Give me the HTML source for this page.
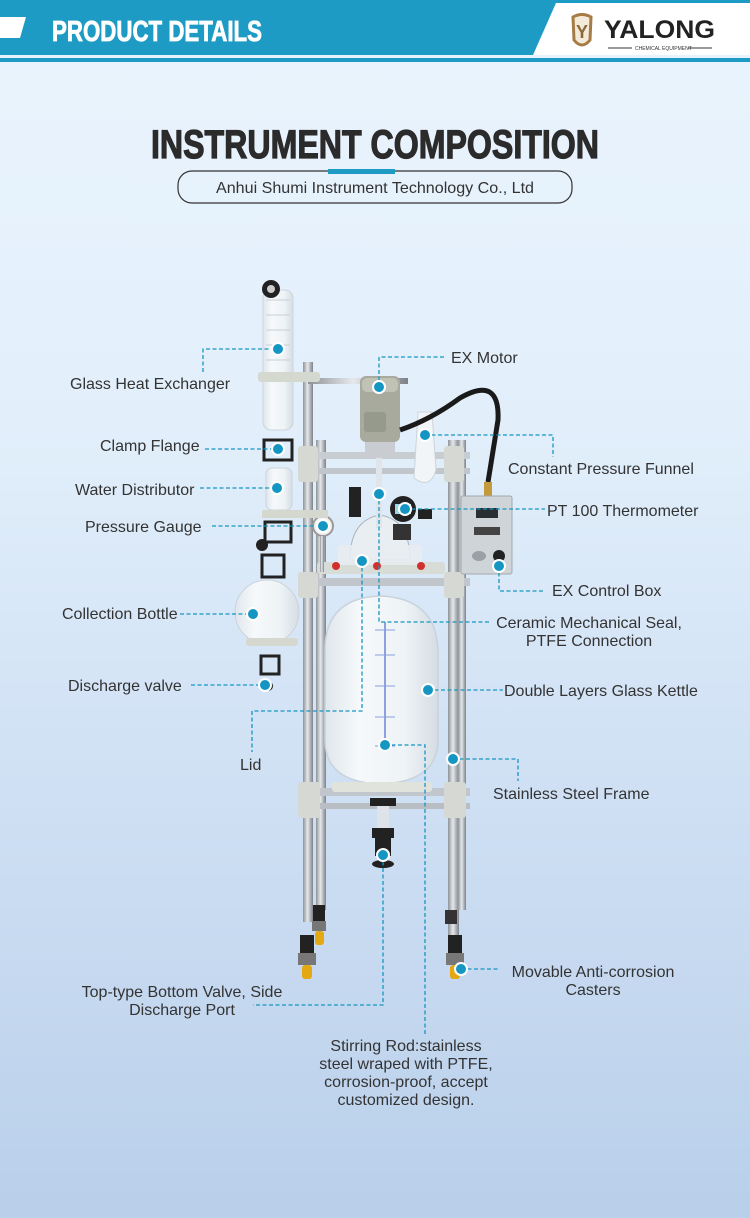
<!DOCTYPE html>
<html><head><meta charset="utf-8"><style>
html,body{margin:0;padding:0}
body{width:750px;height:1218px;overflow:hidden;position:relative;background:linear-gradient(180deg,#eaf4fd 0%,#e2effb 35%,#cfe0f4 65%,#b9cfea 100%);font-family:"Liberation Sans",sans-serif}
svg{position:absolute;left:0;top:0}
</style></head><body>
<svg width="750" height="1218" viewBox="0 0 750 1218" xmlns="http://www.w3.org/2000/svg">
<defs>
<linearGradient id="rod" x1="0" x2="1"><stop offset="0" stop-color="#8d9298"/><stop offset=".45" stop-color="#e6e9ec"/><stop offset="1" stop-color="#7d8288"/></linearGradient>
<linearGradient id="glass" x1="0" x2="1"><stop offset="0" stop-color="#dfe6ec"/><stop offset=".3" stop-color="#f6f9fb"/><stop offset=".7" stop-color="#eef3f6"/><stop offset="1" stop-color="#d5dde4"/></linearGradient>
</defs>
<!-- header -->
<rect x="0" y="0" width="750" height="55" fill="#1e9bc4"/>
<rect x="0" y="58" width="750" height="4" fill="#1e9bc4"/>
<polygon points="0,17 26,17 20,38 0,38" fill="#fff"/>
<text x="52" y="41" font-family="Liberation Sans" font-weight="bold" font-size="29" fill="#fff" stroke="#fff" stroke-width="0.8" textLength="210" lengthAdjust="spacingAndGlyphs">PRODUCT DETAILS</text>
<polygon points="556,3 750,3 750,55 533,55" fill="#fff"/>
<path d="M573,17 Q582,12 591,17 L590,40 Q582,50 574,40 Z" fill="#f3ead9" stroke="#a77b45" stroke-width="3"/>
<text x="576" y="38" font-size="18" font-weight="bold" fill="#8b6a3a">Y</text>
<text x="604" y="38" font-size="25" font-weight="bold" fill="#222" textLength="111" lengthAdjust="spacingAndGlyphs">YALONG</text>
<line x1="608" y1="48" x2="632" y2="48" stroke="#333" stroke-width="1"/>
<line x1="688" y1="48" x2="712" y2="48" stroke="#333" stroke-width="1"/>
<text x="635" y="50" font-size="5" fill="#333">CHEMICAL EQUIPMENT</text>
<!-- title -->
<text x="375" y="158" text-anchor="middle" font-weight="bold" font-size="40" fill="#2b2b2b" stroke="#2b2b2b" stroke-width="1.2" textLength="448" lengthAdjust="spacingAndGlyphs">INSTRUMENT COMPOSITION</text>
<rect x="178" y="171" width="394" height="32" rx="14" fill="none" stroke="#333" stroke-width="1.2"/>
<rect x="328" y="169" width="67" height="5" fill="#1e9bc4"/>
<text x="375" y="193" text-anchor="middle" font-size="16" fill="#333" textLength="318" lengthAdjust="spacingAndGlyphs">Anhui Shumi Instrument Technology Co., Ltd</text>

<!-- apparatus -->
<rect x="303" y="362" width="10" height="560" fill="url(#rod)"/>
<rect x="316" y="440" width="10" height="470" fill="url(#rod)"/>
<rect x="448" y="440" width="11" height="500" fill="url(#rod)"/>
<rect x="458" y="440" width="8" height="470" fill="url(#rod)"/>
<rect x="308" y="378" width="100" height="6" fill="url(#rod)"/>
<rect x="300" y="452" width="170" height="7" fill="#c8cdd2"/>
<rect x="300" y="468" width="170" height="6" fill="#c0c6cb"/>
<rect x="300" y="578" width="170" height="8" fill="#c0c6cb"/>
<rect x="300" y="788" width="170" height="8" fill="#c0c6cb"/>
<rect x="300" y="803" width="170" height="6" fill="#b8bec4"/>
<rect x="298" y="446" width="20" height="36" rx="3" fill="#d6d9d3"/>
<rect x="444" y="446" width="20" height="36" rx="3" fill="#d6d9d3"/>
<rect x="298" y="572" width="20" height="26" rx="3" fill="#d6d9d3"/>
<rect x="444" y="572" width="20" height="26" rx="3" fill="#d6d9d3"/>
<rect x="298" y="782" width="22" height="36" rx="3" fill="#d6d9d3"/>
<rect x="444" y="782" width="22" height="36" rx="3" fill="#d6d9d3"/>
<rect x="300" y="935" width="14" height="18" fill="#222"/><rect x="298" y="953" width="18" height="12" fill="#777"/><rect x="302" y="965" width="10" height="14" rx="3" fill="#e3a812"/>
<rect x="313" y="905" width="12" height="16" fill="#222"/><rect x="312" y="921" width="14" height="10" fill="#777"/><rect x="315" y="931" width="9" height="14" rx="3" fill="#e3a812"/>
<rect x="448" y="935" width="14" height="18" fill="#222"/><rect x="446" y="953" width="18" height="12" fill="#777"/><rect x="450" y="965" width="10" height="14" rx="3" fill="#e3a812"/>
<rect x="445" y="910" width="12" height="14" fill="#333"/>
<path d="M325,650 Q325,598 380,596 Q436,598 438,650 L438,740 Q438,782 380,784 Q325,782 325,740 Z" fill="url(#glass)" stroke="#c9d2da" stroke-width="1.5"/>
<line x1="385" y1="622" x2="385" y2="748" stroke="#6d84d6" stroke-width="1.5"/>
<g stroke="#8a9fe0" stroke-width="1"><line x1="375" y1="630" x2="395" y2="630"/><line x1="375" y1="655" x2="395" y2="655"/><line x1="375" y1="686" x2="395" y2="686"/><line x1="375" y1="717" x2="395" y2="717"/><line x1="375" y1="746" x2="395" y2="746"/></g>
<rect x="332" y="782" width="100" height="10" rx="3" fill="#dfe3db"/>
<rect x="317" y="562" width="128" height="12" rx="3" fill="#d8dcd6"/>
<rect x="370" y="798" width="26" height="8" fill="#222"/>
<rect x="377" y="806" width="12" height="24" fill="#dde3e8"/>
<rect x="372" y="828" width="22" height="10" fill="#222"/>
<rect x="375" y="838" width="16" height="18" fill="#222"/>
<ellipse cx="383" cy="864" rx="11" ry="4" fill="#222"/>
<path d="M350,560 Q350,520 380,515 Q410,520 410,560 Z" fill="#e8eef2" stroke="#aab5bd"/>
<rect x="338" y="545" width="84" height="20" rx="4" fill="#e7ecef" opacity=".9"/>
<circle cx="336" cy="566" r="4" fill="#d0312d"/><circle cx="377" cy="566" r="4" fill="#d0312d"/><circle cx="421" cy="566" r="4" fill="#d0312d"/>
<rect x="376" y="458" width="6" height="70" fill="#dfe5ea"/>
<circle cx="323" cy="526" r="10" fill="#f2f2f2" stroke="#999" stroke-width="2"/>
<rect x="320" y="536" width="4" height="36" fill="url(#rod)"/>
<circle cx="403" cy="509" r="13" fill="#222"/><rect x="395" y="504" width="16" height="10" fill="#9fd3e6"/>
<rect x="418" y="509" width="14" height="10" fill="#222"/>
<rect x="393" y="524" width="18" height="16" fill="#333"/>
<rect x="349" y="487" width="12" height="30" fill="#222"/>
<rect x="360" y="376" width="40" height="66" rx="6" fill="#a7aa9c"/>
<rect x="362" y="378" width="36" height="14" rx="5" fill="#bfc2b4"/>
<rect x="364" y="412" width="22" height="20" rx="3" fill="#969a8c"/>
<rect x="365" y="442" width="30" height="16" fill="#c9cdd1"/>
<path d="M418,412 L432,412 L436,470 Q430,490 414,478 Z" fill="#f1f5f8" stroke="#ccd4da"/>
<path d="M400,430 Q430,420 460,398 Q500,375 498,420 L488,482" fill="none" stroke="#1a1a1a" stroke-width="5"/>
<rect x="484" y="482" width="8" height="14" fill="#c59a3a"/>
<rect x="461" y="496" width="51" height="78" rx="2" fill="#cfd4d8" stroke="#a3a9ae"/>
<rect x="476" y="508" width="22" height="10" fill="#2a2f33"/>
<rect x="474" y="527" width="26" height="8" fill="#444"/>
<circle cx="499" cy="556" r="6" fill="#222"/>
<ellipse cx="479" cy="556" rx="7" ry="5" fill="#9aa0a6"/>
<rect x="263" y="290" width="30" height="140" rx="8" fill="url(#glass)" stroke="#cdd5dc"/>
<g stroke="#c7cfd6" stroke-width="1"><line x1="266" y1="300" x2="290" y2="300"/><line x1="266" y1="315" x2="290" y2="315"/><line x1="266" y1="330" x2="290" y2="330"/><line x1="266" y1="345" x2="290" y2="345"/><line x1="266" y1="360" x2="290" y2="360"/></g>
<circle cx="271" cy="289" r="9" fill="#222"/><circle cx="271" cy="289" r="4" fill="#ccc"/>
<rect x="258" y="372" width="62" height="10" rx="3" fill="#d4d8cf"/>
<rect x="264" y="440" width="28" height="20" fill="none" stroke="#222" stroke-width="3"/>
<rect x="266" y="468" width="26" height="42" rx="6" fill="url(#glass)" stroke="#ccd4da"/>
<rect x="262" y="510" width="66" height="8" fill="#d4d8cf"/>
<rect x="265" y="522" width="26" height="20" fill="none" stroke="#222" stroke-width="3"/>
<circle cx="262" cy="545" r="6" fill="#222"/>
<rect x="262" y="555" width="22" height="22" fill="none" stroke="#222" stroke-width="3"/>
<circle cx="267" cy="612" r="32" fill="url(#glass)" stroke="#cbd3da"/>
<rect x="246" y="638" width="52" height="8" rx="3" fill="#d4d8cf"/>
<rect x="261" y="656" width="18" height="18" fill="none" stroke="#222" stroke-width="3"/>
<circle cx="268" cy="686" r="5" fill="#222"/>

<!-- leaders -->
<g fill="none" stroke="#1596c2" stroke-width="1.3" stroke-dasharray="4,2.5">
<polyline points="203,372 203,349 278,349"/>
<polyline points="205,449 278,449"/>
<polyline points="200,488 277,488"/>
<polyline points="212,526 323,526"/>
<polyline points="180,614 253,614"/>
<polyline points="191,685 265,685"/>
<polyline points="362,561 362,711 252,711 252,752"/>
<polyline points="379,387 379,357 446,357"/>
<polyline points="425,435 553,435 553,457"/>
<polyline points="405,509 545,509"/>
<polyline points="499,566 499,591 543,591"/>
<polyline points="379,494 379,622 490,622"/>
<polyline points="428,690 503,690"/>
<polyline points="385,745 425,745 425,1035"/>
<polyline points="453,759 518,759 518,781"/>
<polyline points="383,855 383,1005 253,1005"/>
<polyline points="461,969 500,969"/>
</g>
<g fill="#1596c2" stroke="#fff" stroke-width="2">
<circle cx="278" cy="349" r="6"/><circle cx="278" cy="449" r="6"/><circle cx="277" cy="488" r="6"/>
<circle cx="323" cy="526" r="6"/><circle cx="253" cy="614" r="6"/><circle cx="265" cy="685" r="6"/>
<circle cx="362" cy="561" r="6"/><circle cx="379" cy="387" r="6"/><circle cx="425" cy="435" r="6"/>
<circle cx="405" cy="509" r="6"/><circle cx="499" cy="566" r="6"/><circle cx="379" cy="494" r="6"/>
<circle cx="428" cy="690" r="6"/><circle cx="385" cy="745" r="6"/><circle cx="453" cy="759" r="6"/>
<circle cx="383" cy="855" r="6"/><circle cx="461" cy="969" r="6"/>
</g>
<g font-family="Liberation Sans" font-size="16" fill="#333">
<text x="70" y="389">Glass Heat Exchanger</text>
<text x="100" y="451">Clamp Flange</text>
<text x="75" y="495">Water Distributor</text>
<text x="85" y="532">Pressure Gauge</text>
<text x="62" y="619">Collection Bottle</text>
<text x="68" y="691">Discharge valve</text>
<text x="240" y="770">Lid</text>
<text x="451" y="363">EX Motor</text>
<text x="508" y="474">Constant Pressure Funnel</text>
<text x="547" y="516">PT 100 Thermometer</text>
<text x="552" y="596">EX Control Box</text>
<text x="589" y="628" text-anchor="middle">Ceramic Mechanical Seal,</text>
<text x="589" y="646" text-anchor="middle">PTFE Connection</text>
<text x="504" y="696">Double Layers Glass Kettle</text>
<text x="493" y="799">Stainless Steel Frame</text>
<text x="593" y="977" text-anchor="middle">Movable Anti-corrosion</text>
<text x="593" y="995" text-anchor="middle">Casters</text>
<text x="182" y="997" text-anchor="middle">Top-type Bottom Valve, Side</text>
<text x="182" y="1015" text-anchor="middle">Discharge Port</text>
<text x="406" y="1051" text-anchor="middle">Stirring Rod:stainless</text>
<text x="406" y="1069" text-anchor="middle">steel wraped with PTFE,</text>
<text x="406" y="1087" text-anchor="middle">corrosion-proof, accept</text>
<text x="406" y="1105" text-anchor="middle">customized design.</text>
</g>
</svg>
</body></html>
